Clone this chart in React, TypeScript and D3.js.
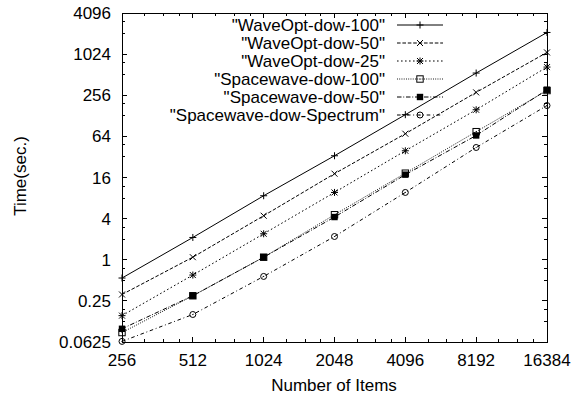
import React from 'react';
import * as d3 from 'd3';

const sizes = [256, 512, 1024, 2048, 4096, 8192, 16384];
const xTickLabels = ['256', '512', '1024', '2048', '4096', '8192', '16384'];
const yTickValues = [0.0625, 0.25, 1, 4, 16, 64, 256, 1024, 4096];
const yTickLabels = ['0.0625', '0.25', '1', '4', '16', '64', '256', '1024', '4096'];

const seriesNames = [
  '"WaveOpt-dow-100"',
  '"WaveOpt-dow-50"',
  '"WaveOpt-dow-25"',
  '"Spacewave-dow-100"',
  '"Spacewave-dow-50"',
  '"Spacewave-dow-Spectrum"',
];
const waveOpt100 = [0.54, 2.12, 8.65, 33.3, 133, 541, 2125];
const waveOpt50 = [0.31, 1.09, 4.41, 18.2, 70, 282, 1084];
const waveOpt25 = [0.152, 0.597, 2.4, 9.67, 39.4, 157, 662];
const spacewave100 = [0.086, 0.297, 1.09, 4.56, 18.5, 75, 300];
const spacewave50 = [0.0976, 0.297, 1.09, 4.22, 17.6, 66, 308];
const spacewaveSpectrum = [0.0638, 0.158, 0.57, 2.19, 9.67, 44, 181];

const seriesValues = [waveOpt100, waveOpt50, waveOpt25, spacewave100, spacewave50, spacewaveSpectrum];
const dashes = ['', '3.6,1.8', '1.6,2.4', '0.9,1.35', '4.5,1.8,0.9,1.8', '3.6,2.7,0.9,2.7'];
const markerTypes = ['plus', 'cross', 'star', 'box', 'boxf', 'circle'];

const W = 576;
const H = 398;
const L = 122, R = 547, T = 13, B = 342;
const FONT = "'Liberation Sans', Arial, Helvetica, sans-serif";

function Marker({ type, x, y }: { type: string; x: number; y: number }) {
  const h = 3.5;
  const s = 3.2;
  const c = 3;
  const st = { stroke: '#000', strokeWidth: 1, fill: 'none' } as const;
  if (type === 'plus') return <path d={`M${x - h},${y}h${2 * h}M${x},${y - h}v${2 * h}`} {...st} />;
  if (type === 'cross') return <path d={`M${x - c},${y - c}L${x + c},${y + c}M${x - c},${y + c}L${x + c},${y - c}`} {...st} />;
  if (type === 'star')
    return (
      <path
        d={`M${x - h},${y}h${2 * h}M${x},${y - h}v${2 * h}M${x - c},${y - c}L${x + c},${y + c}M${x - c},${y + c}L${x + c},${y - c}`}
        {...st}
      />
    );
  if (type === 'box')
    return (
      <g>
        <rect x={x - s} y={y - s} width={2 * s} height={2 * s} {...st} />
        <circle cx={x} cy={y} r={0.6} fill="#000" />
      </g>
    );
  if (type === 'boxf') return <rect x={x - s} y={y - s} width={2 * s} height={2 * s} fill="#000" />;
  return (
    <g>
      <circle cx={x} cy={y} r={c} {...st} />
      <circle cx={x} cy={y} r={0.6} fill="#000" />
    </g>
  );
}

export default function App() {
  const x = d3.scaleLog().base(2).domain([256, 16384]).range([L, R]);
  const y = d3.scaleLog().base(2).domain([0.0625, 4096]).range([B, T]);
  const line = d3
    .line<[number, number]>()
    .x((d) => x(d[0]))
    .y((d) => y(d[1]));

  const xMinor: number[] = [];
  sizes.slice(0, -1).forEach((s) => [1.25, 1.5, 1.75].forEach((f) => xMinor.push(s * f)));
  const yMinor: number[] = [];
  yTickValues.slice(0, -1).forEach((v) => [2, 3].forEach((f) => yMinor.push(v * f)));

  const major = 5;
  const minor = 3;
  const tickStyle = { stroke: '#000', strokeWidth: 1 };

  return (
    <svg width={W} height={H} style={{ position: 'absolute', left: 0, top: 0, background: '#fff' }} fontFamily={FONT}>
      <rect x={0} y={0} width={W} height={H} fill="#fff" />
      {/* ticks */}
      <g shapeRendering="crispEdges">
        {sizes.map((s, i) => (
          <g key={'xt' + i}>
            <line x1={x(s)} x2={x(s)} y1={B} y2={B - major} {...tickStyle} />
            <line x1={x(s)} x2={x(s)} y1={T} y2={T + major} {...tickStyle} />
          </g>
        ))}
        {xMinor.map((s, i) => (
          <g key={'xm' + i}>
            <line x1={x(s)} x2={x(s)} y1={B} y2={B - minor} {...tickStyle} />
            <line x1={x(s)} x2={x(s)} y1={T} y2={T + minor} {...tickStyle} />
          </g>
        ))}
        {yTickValues.map((v, i) => (
          <g key={'yt' + i}>
            <line x1={L} x2={L + major} y1={y(v)} y2={y(v)} {...tickStyle} />
            <line x1={R} x2={R - major} y1={y(v)} y2={y(v)} {...tickStyle} />
          </g>
        ))}
        {yMinor.map((v, i) => (
          <g key={'ym' + i}>
            <line x1={L} x2={L + minor} y1={y(v)} y2={y(v)} {...tickStyle} />
            <line x1={R} x2={R - minor} y1={y(v)} y2={y(v)} {...tickStyle} />
          </g>
        ))}
        <rect x={L} y={T} width={R - L} height={B - T} fill="none" stroke="#000" strokeWidth={1} />
      </g>
      {/* tick labels */}
      {yTickValues.map((v, i) => (
        <text key={'yl' + i} x={L - 11} y={y(v)} dy="0.36em" textAnchor="end" fontSize={17}>
          {yTickLabels[i]}
        </text>
      ))}
      {sizes.map((s, i) => (
        <text key={'xl' + i} x={x(s)} y={366} textAnchor="middle" fontSize={17}>
          {xTickLabels[i]}
        </text>
      ))}
      <text x={334} y={391} textAnchor="middle" fontSize={17}>
        Number of Items
      </text>
      <text transform="translate(26,176) rotate(-90)" textAnchor="middle" fontSize={17}>
        Time(sec.)
      </text>
      {/* series */}
      {seriesValues.map((vals, si) => (
        <g key={'s' + si}>
          <path
            d={line(vals.map((v, i) => [sizes[i], v] as [number, number])) || ''}
            fill="none"
            stroke="#000"
            strokeWidth={1}
            strokeDasharray={dashes[si] || undefined}
          />
          {vals.map((v, i) => (
            <Marker key={i} type={markerTypes[si]} x={x(sizes[i])} y={y(v)} />
          ))}
        </g>
      ))}
      {/* legend */}
      {seriesNames.map((name, si) => {
        const ly = 25 + si * 18;
        return (
          <g key={'lg' + si}>
            <text x={385} y={ly} dy="0.36em" textAnchor="end" fontSize={17}>
              {name}
            </text>
            <line x1={397} x2={443} y1={ly} y2={ly} stroke="#000" strokeWidth={1} strokeDasharray={dashes[si] || undefined} />
            <Marker type={markerTypes[si]} x={420} y={ly} />
          </g>
        );
      })}
    </svg>
  );
}
